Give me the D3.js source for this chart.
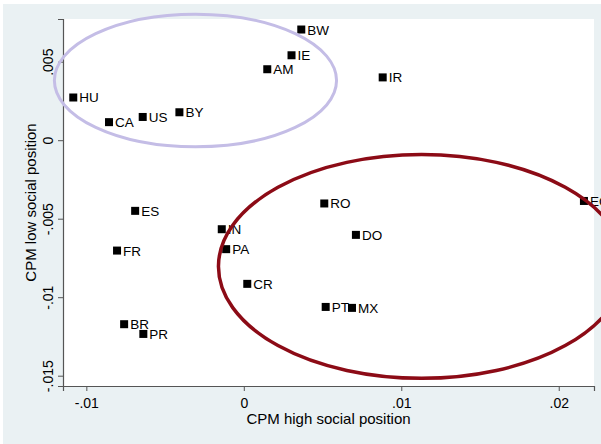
<!DOCTYPE html>
<html>
<head>
<meta charset="utf-8">
<script src="https://cdn.jsdelivr.net/npm/d3@7"></script>
<style>
  html, body { margin: 0; padding: 0; background: #ffffff; }
  svg { display: block; }
  text { font-family: "Liberation Sans", Arial, sans-serif; fill: #000; }
</style>
</head>
<body>
<svg id="chart" width="601" height="444"></svg>
<script>
// Country codes and their CPM estimates
const countries = ["HU","CA","US","BY","AM","IE","BW","IR","ES","FR","IN","PA","CR","BR","PR","RO","DO","PT","MX","EC"];
const cpmHigh = [-0.01083,-0.00856,-0.00642,-0.00409,0.00149,0.00303,0.00365,0.00882,-0.0069,-0.00805,-0.0014,-0.00112,0.00022,-0.0076,-0.00638,0.00511,0.00712,0.0052,0.00687,0.0216];
const cpmLow  = [0.00272,0.00115,0.00148,0.00178,0.00452,0.00541,0.00705,0.0040,-0.0045,-0.00703,-0.00567,-0.00694,-0.00915,-0.01172,-0.01234,-0.00403,-0.00603,-0.01062,-0.01068,-0.00387];

const xTicks = [-0.01, 0, 0.01, 0.02];
const yTicks = [0.005, 0, -0.005, -0.01, -0.015];
const fmt = v => v === 0 ? "0" : (v < 0 ? "-" : "") + String(Math.abs(v)).replace(/^0/, "");

const svg = d3.select("#chart");
const W = 601, H = 444;
const plot = { left: 63, right: 594, top: 19, bottom: 386 };

// graph region background
svg.append("rect").attr("x", 3).attr("y", 4).attr("width", W - 3).attr("height", H - 4)
  .attr("fill", "#eaf1f3");
svg.append("rect").attr("x", plot.left).attr("y", plot.top)
  .attr("width", plot.right - plot.left).attr("height", plot.bottom - plot.top)
  .attr("fill", "#ffffff");

const x = d3.scaleLinear().domain([-0.011482, 0.022239]).range([plot.left, plot.right]);
const y = d3.scaleLinear().domain([-0.015656, 0.00772]).range([plot.bottom, plot.top]);

// axes
const xAxis = d3.axisBottom(x).tickValues(xTicks).tickFormat(fmt).tickSize(5).tickPadding(4);
const gx = svg.append("g").attr("transform", `translate(0,${plot.bottom})`).call(xAxis);
gx.select(".domain").attr("stroke", "#555").attr("stroke-width", 1.2);
gx.selectAll(".tick line").attr("stroke", "#555");
gx.selectAll(".tick text").style("font-size", "14px").attr("dy", "0.9em")
  .style("font-family", "'Liberation Sans', Arial, sans-serif");

const yAxis = d3.axisLeft(y).tickValues(yTicks).tickFormat(fmt).tickSize(5).tickPadding(4);
const gy = svg.append("g").attr("transform", `translate(${plot.left},0)`).call(yAxis);
gy.select(".domain").attr("stroke", "#555").attr("stroke-width", 1.2);
gy.selectAll(".tick line").attr("stroke", "#555");
gy.selectAll(".tick text")
  .style("font-size", "14px")
  .style("font-family", "'Liberation Sans', Arial, sans-serif")
  .attr("text-anchor", "middle")
  .attr("x", 0).attr("dy", 0)
  .attr("transform", "translate(-10,0) rotate(-90)");

// axis titles
svg.append("text").attr("x", (plot.left + plot.right) / 2).attr("y", 424)
  .attr("text-anchor", "middle").style("font-size", "15px")
  .text("CPM high social position");
svg.append("text")
  .attr("transform", `translate(36,${(plot.top + plot.bottom) / 2}) rotate(-90)`)
  .attr("text-anchor", "middle").style("font-size", "15px")
  .text("CPM low social position");

// markers and labels
const pts = countries.map((c, i) => ({ c, hx: cpmHigh[i], ly: cpmLow[i] }));
const ms = 8;
svg.append("g").selectAll("rect").data(pts).join("rect")
  .attr("x", d => x(d.hx) - ms / 2).attr("y", d => y(d.ly) - ms / 2)
  .attr("width", ms).attr("height", ms).attr("fill", "#000");
svg.append("g").selectAll("text").data(pts).join("text")
  .attr("x", d => x(d.hx) + ms / 2 + 2).attr("y", d => y(d.ly) + 5)
  .style("font-size", "13.5px")
  .text(d => d.c);

// grouping ellipses, given in data units
const groups = [
  { cx: -0.00307, cy: 0.0038, rx: 0.00896, ry: 0.00422, color: "#c4bde6", width: 3 },
  { cx: 0.01129, cy: -0.00804, rx: 0.0129, ry: 0.00713, color: "#8c0b16", width: 3.5 }
];
svg.append("g").selectAll("ellipse").data(groups).join("ellipse")
  .attr("cx", d => x(d.cx)).attr("cy", d => y(d.cy))
  .attr("rx", d => x(d.cx + d.rx) - x(d.cx))
  .attr("ry", d => y(d.cy - d.ry) - y(d.cy))
  .attr("fill", "none").attr("stroke", d => d.color).attr("stroke-width", d => d.width);
</script>
</body>
</html>
